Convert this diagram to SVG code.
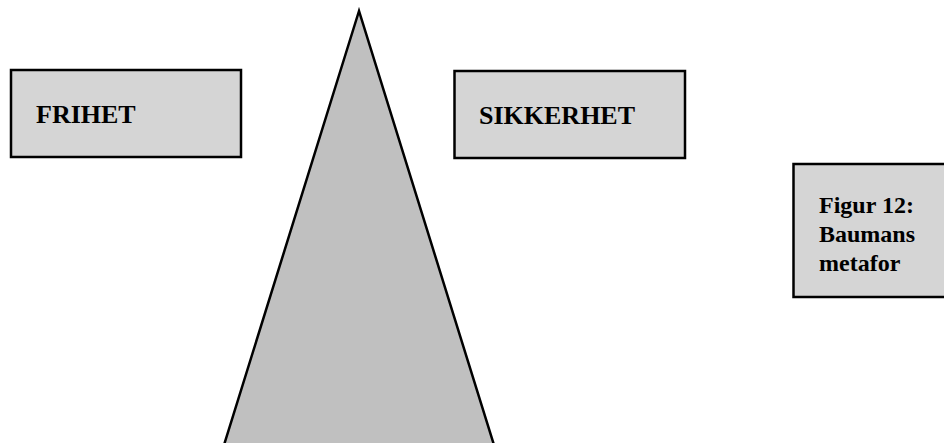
<svg xmlns="http://www.w3.org/2000/svg" width="944" height="443" viewBox="0 0 944 443">
<style>
.box{fill:#d5d5d5;stroke:#000;stroke-width:2.5}
.lbl{font-family:"Liberation Serif","Times New Roman",serif;font-weight:bold;fill:#000}
</style>
<rect width="944" height="443" fill="#fff"/>
<g id="triangle">
<polygon points="359,11 224,445 494,445" fill="#c0c0c0" stroke="#000" stroke-width="2.5"/>
</g>
<g id="frihet">
<rect class="box" x="11" y="70" width="230" height="87"/>
<text class="lbl" x="36" y="123" font-size="26">FRIHET</text>
</g>
<g id="sikkerhet">
<rect class="box" x="454.5" y="71" width="230.5" height="87"/>
<text class="lbl" x="479" y="124" font-size="26">SIKKERHET</text>
</g>
<g id="figur">
<rect class="box" x="793.5" y="164" width="155" height="133"/>
<text class="lbl" x="819" y="213" font-size="24">Figur 12:</text>
<text class="lbl" x="819" y="242" font-size="24">Baumans</text>
<text class="lbl" x="819" y="271" font-size="24">metafor</text>
</g>
<g id="connectors"></g>
</svg>
